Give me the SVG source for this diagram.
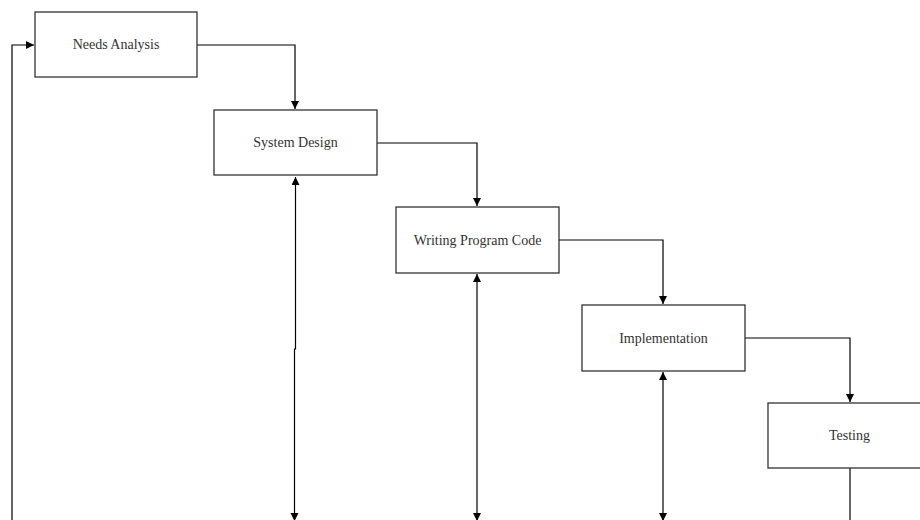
<svg xmlns="http://www.w3.org/2000/svg" width="920" height="520" viewBox="0 0 920 520">
<defs>
<marker id="arr" markerWidth="10" markerHeight="10" refX="8" refY="4" orient="auto-start-reverse" markerUnits="userSpaceOnUse">
<path d="M0,0 L8,4 L0,8 Z" fill="#000"/>
</marker>
<style>
.box{fill:#fff;stroke:#333;stroke-width:1.3}
.lbl{font-family:"Liberation Serif","Times New Roman",serif;font-size:14px;fill:#333;text-anchor:middle;dominant-baseline:central}
.c{fill:none;stroke:#000;stroke-width:1.2}
</style>
</defs>
<rect width="920" height="520" fill="#fff"/>
<g id="connectors">
<path class="c" d="M197,45 H295 V109" marker-end="url(#arr)"/>
<path class="c" d="M377,143 H477 V206" marker-end="url(#arr)"/>
<path class="c" d="M559,240 H663 V304" marker-end="url(#arr)"/>
<path class="c" d="M745,338 H850 V402" marker-end="url(#arr)"/>
<path class="c" d="M295.5,177 V349 H294.5 V521" marker-start="url(#arr)" marker-end="url(#arr)"/>
<path class="c" d="M477,274 V521" marker-start="url(#arr)" marker-end="url(#arr)"/>
<path class="c" d="M663,372 V521" marker-start="url(#arr)" marker-end="url(#arr)"/>
<path class="c" d="M850,468 V530"/>
<path class="c" d="M12,530 V45 H34" marker-end="url(#arr)"/>
</g>
<g id="needs-analysis"><rect class="box" x="35" y="12" width="162" height="65"/><text class="lbl" x="116" y="44">Needs Analysis</text></g>
<g id="system-design"><rect class="box" x="214" y="110" width="163" height="65"/><text class="lbl" x="295.5" y="142">System Design</text></g>
<g id="writing-program-code"><rect class="box" x="396" y="207" width="163" height="66"/><text class="lbl" x="477.5" y="240">Writing Program Code</text></g>
<g id="implementation"><rect class="box" x="582" y="305" width="163" height="66"/><text class="lbl" x="663.5" y="338">Implementation</text></g>
<g id="testing"><rect class="box" x="768" y="403" width="163" height="65"/><text class="lbl" x="849.5" y="435">Testing</text></g>
</svg>
